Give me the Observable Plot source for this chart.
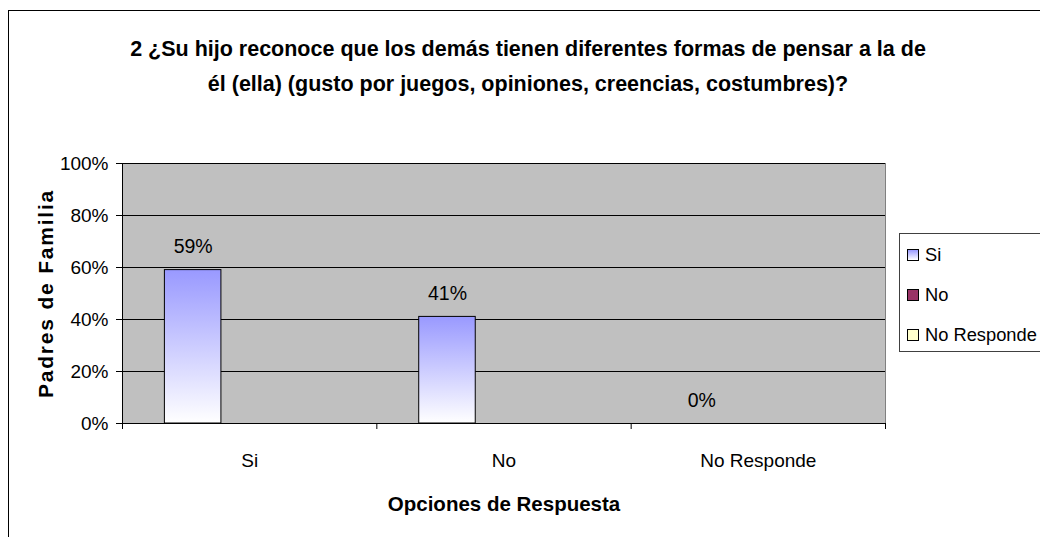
<!DOCTYPE html>
<html>
<head>
<meta charset="utf-8">
<script src="https://cdn.jsdelivr.net/npm/d3@7"></script>
<script src="https://cdn.jsdelivr.net/npm/@observablehq/plot@0.6"></script>
<style>
  html, body { margin: 0; padding: 0; background: #fff; }
  body { width: 1040px; height: 537px; overflow: hidden; position: relative; font-family: "Liberation Sans", Arial, sans-serif; }
  #frame { position: absolute; left: 8px; top: 10px; width: 1100px; height: 600px; border: 1px solid #000; box-sizing: border-box; }
  #title { position: absolute; left: 8px; width: 1040px; top: 32px; text-align: center; font-weight: bold; font-size: 21.5px; line-height: 35px; color: #000; }
  #chart { position: absolute; left: 0; top: 130px; }
  #legend { position: absolute; left: 899px; top: 233px; width: 200px; height: 119px; border: 1px solid #404040; box-sizing: border-box; background: #fff; }
  .item { position: absolute; left: 7px; height: 20px; display: flex; align-items: center; font-size: 18.3px; white-space: nowrap; }
  .sw { width: 10px; height: 10px; border: 1px solid #000; margin-right: 6px; }
  g[aria-label="y-axis label"] text { font-weight: bold; letter-spacing: 1.8px; font-size: 21px; }
  g[aria-label="x-axis label"] text { font-weight: bold; font-size: 20.5px; }
</style>
</head>
<body>
<div id="frame"></div>
<div id="title"></div>
<div id="chart"></div>
<div id="legend"></div>
<script>
// ---- data ----
const titleLines = [
  "2 ¿Su hijo reconoce que los demás tienen diferentes formas de pensar a la de",
  "él (ella) (gusto por juegos, opiniones, creencias, costumbres)?"
];
const categories = ["Si", "No", "No Responde"];
const values = [0.59, 0.41, 0];
const yTicks = [0, 0.2, 0.4, 0.6, 0.8, 1];
const legendLabels = ["Si", "No", "No Responde"];
const legendFills = ["linear-gradient(#9999ff, #ffffff)", "#993366", "#ffffcc"];
const yTitle = "Padres de Familia";
const xTitle = "Opciones de Respuesta";

// Excel clustered layout: 3 series slots per category, gap width 150%
const seriesPerCategory = 3;
const gapWidth = 1.5;
const slot = 1 / (seriesPerCategory + gapWidth);
const slotStart = (gapWidth / 2) * slot;

const data = categories.map((c, i) => ({category: c, i, value: values[i]}));
const pct = d3.format(".0%");

document.getElementById("title").innerHTML = titleLines.map(t => `<div>${t}</div>`).join("");

const plot = Plot.plot({
  width: 1040,
  height: 407,
  marginTop: 33,
  marginLeft: 122,
  marginRight: 155,
  marginBottom: 114,
  x: {domain: [0, categories.length]},
  y: {domain: [0, 1]},
  style: {fontFamily: '"Liberation Sans", Arial, sans-serif', fontSize: "19px", color: "#000", background: "transparent", overflow: "visible"},
  marks: [
    Plot.frame({fill: "#c0c0c0", stroke: "#808080"}),
    Plot.gridY({ticks: yTicks.slice(1), stroke: "#000", strokeOpacity: 1}),
    Plot.rectY(data, {
      x1: d => d.i + slotStart,
      x2: d => d.i + slotStart + slot,
      y: "value",
      fill: "url(#barGrad)",
      stroke: "#000",
      strokeWidth: 1
    }),
    Plot.text(data, {
      x: d => d.i + slotStart + slot / 2,
      y: "value",
      text: d => pct(d.value),
      lineAnchor: "bottom",
      dy: -17,
      fontSize: 19.5
    }),
    Plot.ruleY([0], {stroke: "#000"}),
    Plot.ruleX([0], {stroke: "#000"}),
    Plot.axisY({
      ticks: yTicks, tickFormat: pct, tickSize: 6, tickPadding: 8,
      label: yTitle, labelAnchor: "center", labelOffset: 84, labelArrow: false
    }),
    Plot.axisX({ticks: d3.range(categories.length + 1), tickSize: 6, tickFormat: () => "", label: null}),
    Plot.axisX({
      ticks: categories.map((c, i) => i + 0.5), tickSize: 0, tickPadding: 30,
      tickFormat: d => categories[Math.floor(d)],
      label: xTitle, labelAnchor: "center", labelOffset: 87, labelArrow: false
    })
  ]
});

// gradient definition for bars
const svg = d3.select(plot);
const grad = svg.insert("defs", ":first-child").append("linearGradient")
  .attr("id", "barGrad").attr("x1", 0).attr("y1", 0).attr("x2", 0).attr("y2", 1);
grad.append("stop").attr("offset", "0%").attr("stop-color", "#9999ff");
grad.append("stop").attr("offset", "100%").attr("stop-color", "#ffffff");

document.getElementById("chart").appendChild(plot);

// legend
const legend = document.getElementById("legend");
legendLabels.forEach((lab, i) => {
  const it = document.createElement("div");
  it.className = "item";
  it.style.top = (11 + i * 40) + "px";
  it.innerHTML = `<div class="sw" style="background:${legendFills[i]}"></div><span>${lab}</span>`;
  legend.appendChild(it);
});
</script>
</body>
</html>
